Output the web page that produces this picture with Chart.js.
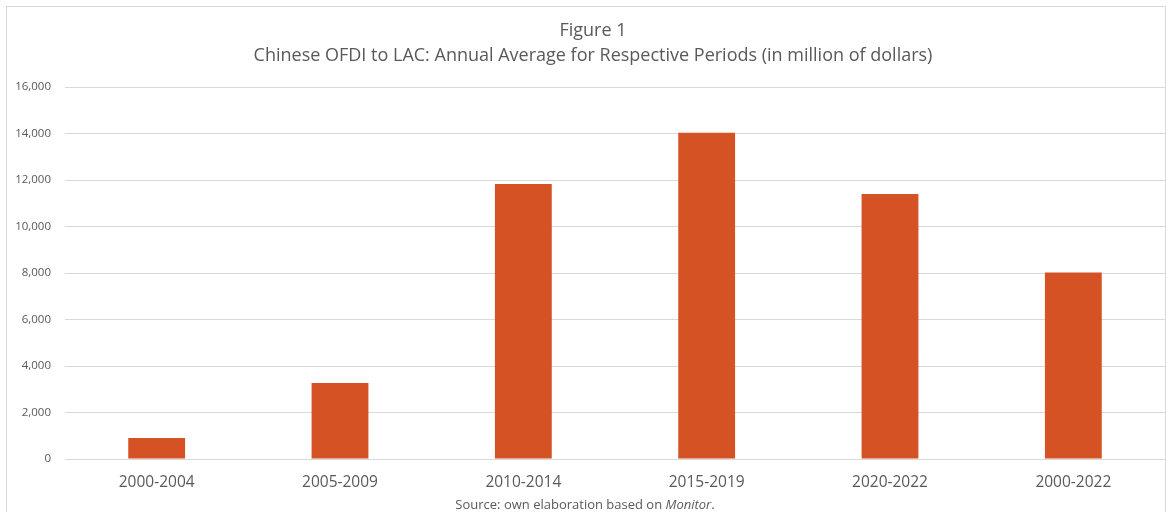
<!DOCTYPE html>
<html>
<head>
<meta charset="utf-8">
<script src="https://cdn.jsdelivr.net/npm/chart.js@4.4.1/dist/chart.umd.min.js"></script>
<style>
  html, body { margin: 0; padding: 0; background: #fff; }
  #wrap { position: relative; width: 1170px; height: 512px; overflow: hidden; font-family: 'Open Sans', sans-serif; }
  #frame { position: absolute; left: 6px; top: 6px; width: 1160px; height: 530px; border: 1px solid #d9d9d9; box-sizing: border-box; }
  #title { position: absolute; left: 8px; width: 1170px; top: 17px; text-align: center; color: #595959; font-size: 18px; line-height: 25px; }
  #source { position: absolute; left: 0; width: 1170px; top: 495px; text-align: center; color: #595959; font-size: 13px; }
  canvas { position: absolute; left: 0; top: 0; }
</style>
</head>
<body>
<div id="wrap">
  <div id="frame"></div>
  <canvas id="chart" width="1170" height="512"></canvas>
  <div id="title">Figure 1<br>Chinese OFDI to LAC: Annual Average for Respective Periods (in million of dollars)</div>
  <div id="source">Source: own elaboration based on <i>Monitor</i>.</div>
</div>
<script>
// data
const periods = ['2000-2004', '2005-2009', '2010-2014', '2015-2019', '2020-2022', '2000-2022'];
const averages = [900, 3270, 11830, 14030, 11400, 8020];
const yTicks = [0, 2000, 4000, 6000, 8000, 10000, 12000, 14000, 16000];

const ctx = document.getElementById('chart').getContext('2d');
new Chart(ctx, {
  type: 'bar',
  data: {
    labels: periods,
    datasets: [{
      data: averages,
      backgroundColor: '#d55225',
      categoryPercentage: 1,
      barPercentage: 0.31
    }]
  },
  options: {
    responsive: false,
    animation: false,
    layout: { padding: { top: 87, right: 5, left: 0, bottom: 0 } },
    plugins: { legend: { display: false }, tooltip: { enabled: false } },
    scales: {
      x: {
        grid: { display: false },
        border: { display: false },
        ticks: { color: '#595959', font: { family: 'Open Sans', size: 15.5 }, padding: 6 },
        afterFit: (s) => { s.height = 53; }
      },
      y: {
        min: 0,
        max: 16000,
        afterBuildTicks: (s) => { s.ticks = yTicks.map(v => ({ value: v })); },
        afterFit: (s) => { s.width = 65; },
        grid: { color: '#d9d9d9', drawTicks: false },
        border: { display: false },
        ticks: {
          color: '#595959',
          font: { family: 'Open Sans', size: 11.5 },
          padding: 14,
          callback: (v) => v.toLocaleString('en-US')
        }
      }
    }
  }
});
</script>
</body>
</html>
